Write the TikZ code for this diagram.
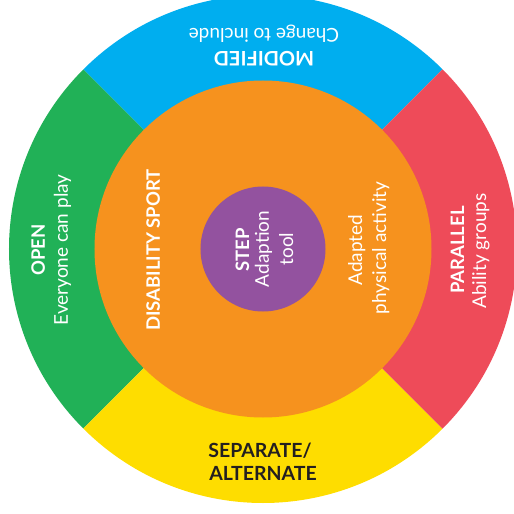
\documentclass[tikz,border=0pt]{standalone}
\usepackage{fontspec}
\setmainfont{Lato}
\definecolor{modblue}{HTML}{00AEEF}
\definecolor{opengreen}{HTML}{21B157}
\definecolor{parred}{HTML}{EE4B59}
\definecolor{sepyellow}{HTML}{FEDD00}
\definecolor{sportorange}{HTML}{F6921E}
\definecolor{steppurple}{HTML}{93529F}
\definecolor{darktext}{HTML}{231F20}
\begin{document}
\begin{tikzpicture}[x=1pt, y=1pt,
    head/.style={text=white, font=\bfseries\fontsize{18.5}{20}\selectfont, anchor=base, inner sep=0pt},
    sub/.style={text=white, font=\fontsize{19}{20}\selectfont, anchor=base, inner sep=0pt}]
        \useasboundingbox (-263, -265) rectangle (251, 249);
        \fill[modblue] (0, 0) -- (45:254) arc[start angle=45, end angle=135, radius=254] -- cycle;
        \fill[opengreen] (0, 0) -- (135:254) arc[start angle=135, end angle=225, radius=254] -- cycle;
        \fill[sepyellow] (0, 0) -- (225:254) arc[start angle=225, end angle=315, radius=254] -- cycle;
        \fill[parred] (0, 0) -- (-45:254) arc[start angle=-45, end angle=45, radius=254] -- cycle;
        \node[circle, fill=sportorange, minimum size=337pt, inner sep=0pt] (sport) at (0, 0) {};
        \node[circle, fill=steppurple, minimum size=125pt, inner sep=0pt] (step) at (0, 0) {};
        \node[head, rotate=180, font=\bfseries\fontsize{20}{22}\selectfont] (modified) at (1, 197) {MODIFIED};
        \node[sub, rotate=180] (modsub) at (1, 220) {Change to include};
        \node[head, rotate=90] (open) at (-218, -1) {OPEN};
        \node[sub, rotate=90] (opensub) at (-195, -1) {Everyone can play};
        \node[head, rotate=90] (disab) at (-103, -1) {DISABILITY SPORT};
        \node[head, rotate=90] (steptitle) at (-14, -1) {STEP};
        \node[sub, rotate=90] (stepsub) at (6, 0) {Adaption};
        \node[sub, rotate=90] (steptool) at (30, 0) {tool};
        \node[sub, rotate=90] (apa) at (99, -1) {Adapted};
        \node[sub, rotate=90] (apasub) at (123, 1) {physical activity};
        \node[head, rotate=90] (parallel) at (201, -1) {PARALLEL};
        \node[sub, rotate=90] (parsub) at (223, -2) {Ability groups};
        \node[head, text=darktext, font=\bfseries\fontsize{19.5}{22}\selectfont] (separate) at (-3, -208) {SEPARATE/};
        \node[head, text=darktext, font=\bfseries\fontsize{19.5}{22}\selectfont] (alternate) at (0, -231) {ALTERNATE};
    \end{tikzpicture}
\end{document}
